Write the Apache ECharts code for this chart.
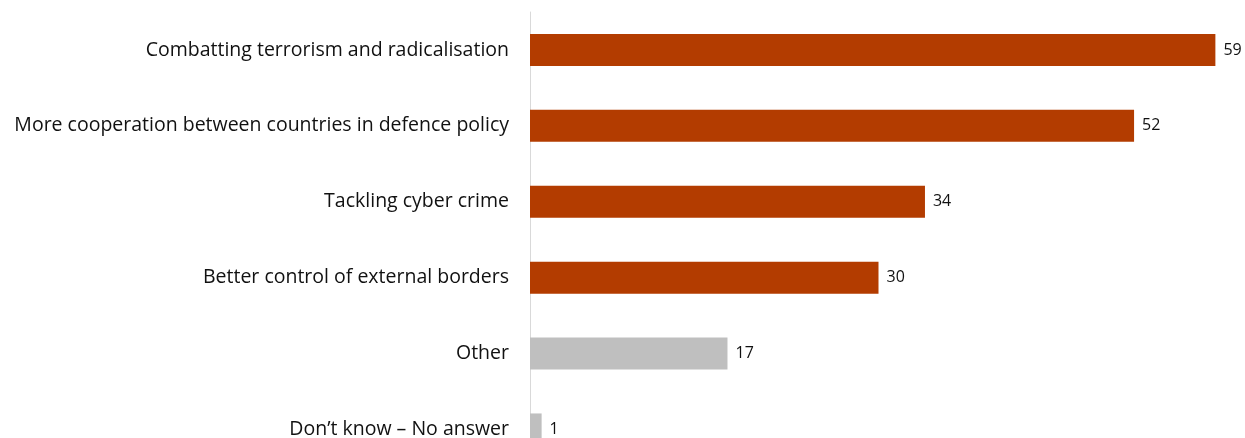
<!DOCTYPE html>
<html><head><meta charset="utf-8">
<script src="https://cdn.jsdelivr.net/npm/echarts@6/dist/echarts.min.js"></script>
<style>html,body{margin:0;padding:0;background:#fff;overflow:hidden}#c{width:1245px;height:480px}</style>
</head><body><div id="c"></div>
<script>
const categories = ["Combatting terrorism and radicalisation","More cooperation between countries in defence policy","Tackling cyber crime","Better control of external borders","Other","Don\u2019t know \u2013 No answer"];
const values = [59, 52, 34, 30, 17, 1];
const highlighted = [true, true, true, true, false, false];
const ORANGE = "#B33C00", GREY = "#BFBFBF";
const chart = echarts.init(document.getElementById('c'), null, {renderer:'canvas'});
chart.setOption({
  animation:false,
  grid:{left:530, top:12, width:697, height:455.4, containLabel:false},
  xAxis:{type:'value', min:0, max:60, show:false},
  yAxis:{type:'category', data:categories, inverse:true,
    axisLine:{show:true, lineStyle:{color:'#D9D9D9', width:1}},
    axisTick:{show:false}, splitLine:{show:false},
    axisLabel:{margin:21, fontFamily:'Open Sans', fontSize:19.5, color:'#111111', padding:[4,0,0,0]}},
  series:[{type:'bar', barWidth:32,
    data:values.map((v,i)=>({value:v, itemStyle:{color: highlighted[i]?ORANGE:GREY}})),
    label:{show:true, position:'right', distance:8, fontFamily:'Open Sans', fontSize:16, color:'#111111', padding:[3,0,0,0]}}]
});
</script></body></html>
